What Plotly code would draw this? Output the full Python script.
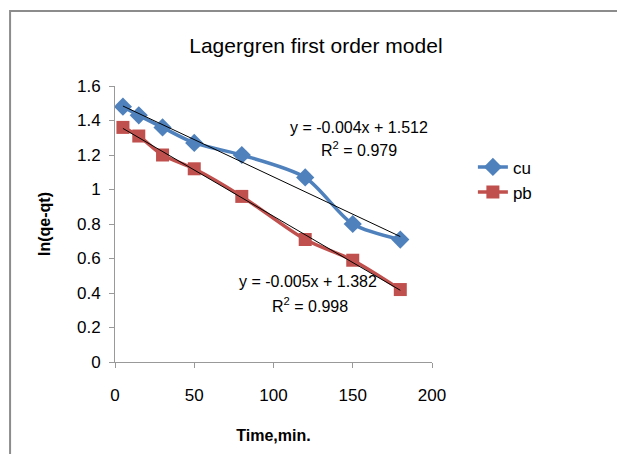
import numpy as np
import plotly.graph_objects as go

time_min = [5, 15, 30, 50, 80, 120, 150, 180]
cu = [1.48, 1.43, 1.36, 1.27, 1.20, 1.07, 0.80, 0.71]
pb = [1.36, 1.31, 1.20, 1.12, 0.96, 0.71, 0.59, 0.42]
x_ticks = [0, 50, 100, 150, 200]
y_ticks = [0, 0.2, 0.4, 0.6, 0.8, 1, 1.2, 1.4, 1.6]
y_tick_labels = ["0", "0.2", "0.4", "0.6", "0.8", "1", "1.2", "1.4", "1.6"]

FONT = "Liberation Sans, Arial"

fig = go.Figure()
x = np.array(time_min, dtype=float)

fig.add_trace(go.Scatter(x=time_min, y=cu, name="cu", mode="lines+markers",
                         line=dict(color="#4F81BD", width=3.5, shape="spline", smoothing=0.8),
                         marker=dict(symbol="diamond", size=14, color="#4F81BD")))
fig.add_trace(go.Scatter(x=time_min, y=pb, name="pb", mode="lines+markers",
                         line=dict(color="#C0504D", width=3.5, shape="spline", smoothing=0.8),
                         marker=dict(symbol="square", size=13, color="#C0504D")))

# linear trendlines computed from the data, drawn on top
for ys in (cu, pb):
    m, b = np.polyfit(x, np.array(ys), 1)
    fig.add_trace(go.Scatter(x=[x.min(), x.max()], y=[m * x.min() + b, m * x.max() + b],
                             mode="lines", line=dict(color="black", width=1),
                             showlegend=False, hoverinfo="skip"))

ann_font = dict(family=FONT, size=16, color="black")
fig.add_annotation(x=154, y=1.36, xref="x", yref="y", text="y = -0.004x + 1.512",
                   showarrow=False, font=ann_font)
fig.add_annotation(x=154, y=1.235, xref="x", yref="y", text="R<sup>2</sup> = 0.979",
                   showarrow=False, font=ann_font)
fig.add_annotation(x=122, y=0.465, xref="x", yref="y", text="y = -0.005x + 1.382",
                   showarrow=False, font=ann_font)
fig.add_annotation(x=123, y=0.33, xref="x", yref="y", text="R<sup>2</sup> = 0.998",
                   showarrow=False, font=ann_font)

fig.add_shape(type="rect", xref="paper", yref="paper", x0=-0.331, x1=2, y0=-1, y1=1.272,
              line=dict(color="#8c8c8c", width=2), layer="below")

fig.update_layout(
    width=617, height=454,
    margin=dict(l=115, r=185, t=86, b=92),
    paper_bgcolor="white", plot_bgcolor="white",
    font=dict(family=FONT, size=17, color="black"),
    title=dict(text="Lagergren first order model", x=0.512, xref="container", xanchor="center",
               y=0.9, yref="container", yanchor="middle",
               font=dict(family=FONT, size=21, color="black")),
    legend=dict(x=1.129, y=0.66, xanchor="left", yanchor="middle",
                font=dict(family=FONT, size=17, color="black"),
                bgcolor="rgba(0,0,0,0)", tracegroupgap=2),
    xaxis=dict(range=[0, 200], tickvals=x_ticks, showgrid=False, zeroline=False,
               showline=True, linecolor="#999", linewidth=1, ticks="outside",
               ticklen=5, tickcolor="#999", ticklabelstandoff=13, automargin=False,
               title=dict(text="<b>Time,min.</b>", standoff=25,
                          font=dict(family=FONT, size=16, color="black"))),
    yaxis=dict(range=[0, 1.6], tickvals=y_ticks, ticktext=y_tick_labels, showgrid=False,
               zeroline=False, showline=True, linecolor="#999", linewidth=1,
               ticks="outside", ticklen=5, tickcolor="#999", ticklabelstandoff=5,
               automargin=False,
               title=dict(text="<b>ln(qe-qt)</b>", standoff=22,
                          font=dict(family=FONT, size=16, color="black"))),
)

fig.write_html("out.html")
